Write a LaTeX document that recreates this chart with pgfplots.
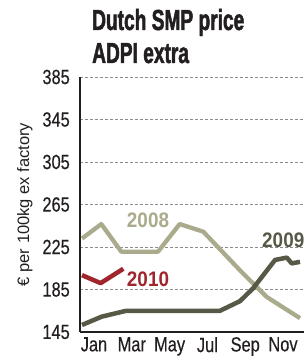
\documentclass[border=0pt]{standalone}
\usepackage{fontspec}
\setmainfont{Liberation Sans}
\newfontfamily\titlefont[FakeStretch=0.66, BoldFeatures={FakeBold=1.6}]{Liberation Sans}
\newfontfamily\condfont[FakeStretch=0.8, FakeBold=0.4]{Liberation Sans}
\newfontfamily\labfont[FakeStretch=0.9]{Liberation Sans}
\usepackage{pgfplots}
\pgfplotsset{compat=1.18}
\definecolor{c2008}{RGB}{170,170,140}
\definecolor{c2009}{RGB}{88,88,70}
\definecolor{c2010}{RGB}{160,38,45}
\definecolor{ink}{RGB}{35,31,32}
\begin{document}
\begin{tikzpicture}[x=1pt,y=1pt]
\path[use as bounding box] (0,0) rectangle (304,356);
\node[anchor=base west, inner sep=0pt, font=\titlefont\bfseries\fontsize{29}{29}\selectfont, text=ink] at (92,326) {Dutch SMP price};
\node[anchor=base west, inner sep=0pt, font=\titlefont\bfseries\fontsize{29}{29}\selectfont, text=ink] at (92,293) {ADPI extra};
\begin{axis}[
  at={(80pt,24pt)}, anchor=south west,
  scale only axis, width=224pt, height=255pt,
  xmin=0.259, xmax=12.11, ymin=145, ymax=385,
  axis x line=bottom, axis y line=left,
  axis line style={-, line width=2.2pt, ink},
  ytick={145,185,225,265,305,345,385},
  xtick={1,3,5,7,9,11}, xticklabels={Jan,Mar,May,Jul,Sep,Nov},
  major tick length=0pt,
  ymajorgrids, grid style={densely dashed, black!45, line width=0.5pt},
  /pgf/number format/assume math mode=true,
  yticklabel style={font=\condfont\fontsize{20.5}{20.5}\selectfont, text=ink, anchor=east, inner sep=0pt, xshift=-10pt},
  xticklabel style={font=\condfont\fontsize{20.5}{20.5}\selectfont, text=ink, anchor=north, inner sep=0pt, yshift=-5pt},
  ylabel={€ per 100kg ex factory},
  ylabel style={font=\fontsize{16.5}{16.5}\selectfont, text=ink, at={(axis description cs:-0.246,0.5)}, anchor=center},
  clip mode=individual,
]
\addplot[c2008, line width=4.3pt, line join=round] coordinates {
 (0.365,233) (1.386,246.6) (2.444,220.6) (4.386,220.6) (5.534,246.6) (6.783,239.4) (8.725,203) (10.138,178) (11.899,158)
};
\addplot[c2009, line width=4.5pt, line join=round] coordinates {
 (0.365,151.6) (1.40,159.4) (2.71,165) (7.67,165) (8.72,174) (9.41,186) (10.58,212.8) (11.2,215) (11.46,209.6) (11.9,211)
};
\addplot[c2010, line width=4.5pt, line join=round] coordinates {
 (0.365,198.5) (1.35,191) (2.55,204.5)
};
\node[font=\labfont\bfseries\fontsize{21}{21}\selectfont, text=c2008, inner sep=0pt] at (axis cs:3.857,250.4) {2008};
\node[font=\labfont\bfseries\fontsize{21}{21}\selectfont, text=c2010, inner sep=0pt] at (axis cs:3.857,194.9) {2010};
\node[font=\labfont\bfseries\fontsize{21}{21}\selectfont, text=c2009, inner sep=0pt, anchor=west] at (axis cs:9.89,231.6) {2009};
\end{axis}
\end{tikzpicture}
\end{document}
